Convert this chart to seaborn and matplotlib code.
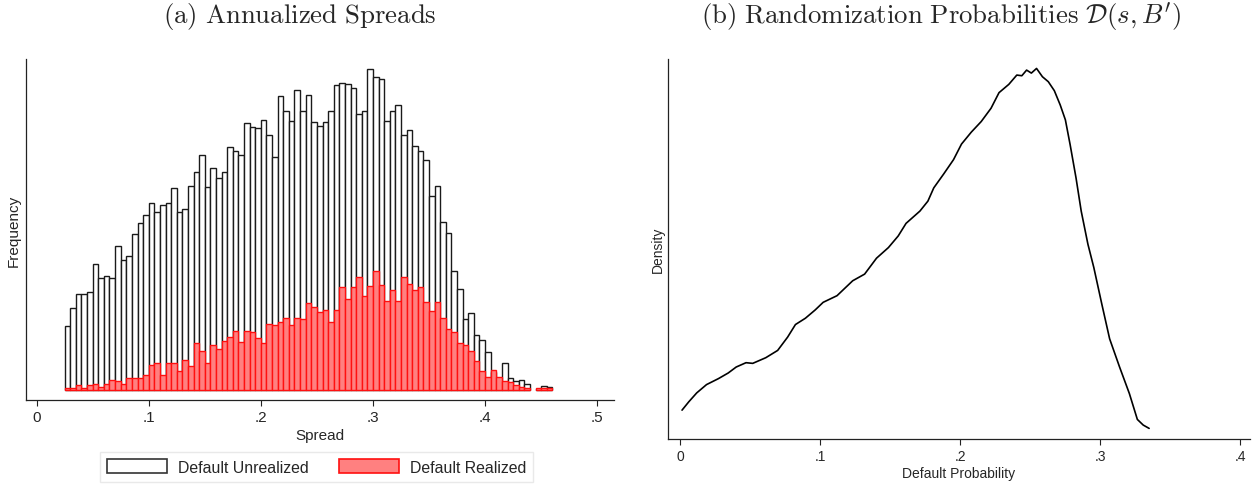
import numpy as np
import pandas as pd
import matplotlib
matplotlib.use("Agg")
import matplotlib.pyplot as plt
import seaborn as sns
from matplotlib.patches import Patch
from matplotlib.ticker import FuncFormatter

# Panel (a): histogram of spreads, bins of width .005 starting at .025
bin_start = 0.025
bin_width = 0.005
unrealized = [193, 247, 289, 288, 293, 378, 335, 343, 335, 432,
              389, 403, 468, 500, 525, 560, 535, 556, 560, 607,
              535, 542, 613, 653, 706, 610, 665, 635, 653, 728,
              718, 706, 800, 790, 786, 810, 764, 700, 882, 836,
              808, 900, 836, 886, 804, 792, 804, 836, 914, 922,
              918, 906, 828, 836, 964, 938, 934, 808, 836, 854,
              766, 780, 732, 718, 690, 583, 611, 503, 472, 358,
              302, 212, 230, 166, 150, 115, 55, 35, 80, 37,
              28, 30, 17, 0, 4, 12, 8]
realized = [5, 5, 15, 5, 15, 19, 8, 19, 29, 26,
            19, 36, 36, 36, 44, 76, 80, 44, 82, 82,
            58, 90, 73, 140, 118, 82, 134, 122, 147, 158,
            176, 143, 176, 173, 155, 140, 197, 194, 204, 215,
            194, 215, 212, 261, 248, 233, 240, 204, 240, 308,
            273, 308, 338, 283, 311, 358, 315, 268, 301, 268,
            338, 318, 301, 310, 265, 236, 265, 215, 183, 173,
            140, 136, 118, 86, 58, 38, 61, 40, 28, 23,
            15, 8, 6, 0, 6, 6, 6]

# Panel (b): kernel density of default probabilities
prob = [0.0014, 0.0062, 0.0119, 0.0189, 0.0274, 0.0344, 0.0401, 0.0471, 0.0519, 0.0612,
        0.0697, 0.0768, 0.0824, 0.0895, 0.0965, 0.1022, 0.1121, 0.1233, 0.1318, 0.1403,
        0.1488, 0.1558, 0.1614, 0.1713, 0.1770, 0.1812, 0.1883, 0.1953, 0.2010, 0.2080,
        0.2151, 0.2221, 0.2278, 0.2348, 0.2405, 0.2441, 0.2475, 0.2509, 0.2546, 0.2588,
        0.2630, 0.2673, 0.2715, 0.2752, 0.2786, 0.2828, 0.2865, 0.2913, 0.2955, 0.3012,
        0.3068, 0.3139, 0.3209, 0.3266, 0.3308, 0.3350]
density = [0.435, 0.56, 0.695, 0.82, 0.91, 0.995, 1.085, 1.15, 1.14, 1.225,
           1.335, 1.535, 1.725, 1.82, 1.945, 2.06, 2.16, 2.385, 2.485, 2.725,
           2.885, 3.06, 3.25, 3.435, 3.585, 3.785, 3.995, 4.21, 4.445, 4.625,
           4.785, 4.985, 5.22, 5.345, 5.485, 5.475, 5.56, 5.515, 5.585, 5.46,
           5.385, 5.25, 5.035, 4.81, 4.435, 3.935, 3.435, 2.935, 2.585, 2.035,
           1.51, 1.085, 0.685, 0.295, 0.21, 0.16]

sns.set_style("white")
plt.rcParams["font.family"] = ["Liberation Sans", "DejaVu Sans"]
plt.rcParams["mathtext.fontset"] = "cm"

n = len(unrealized)
edges = [bin_start + bin_width * i for i in range(n + 1)]
hist_df = pd.DataFrame({
    "spread": [bin_start + bin_width * (i + 0.5) for i in range(n)],
    "unrealized": unrealized,
    "realized": realized,
})
dens_df = pd.DataFrame({"prob": prob, "density": density})

fig = plt.figure(figsize=(12.59, 4.89), dpi=100)
ax1 = fig.add_axes([0.0207, 0.18, 0.467, 0.697])
ax2 = fig.add_axes([0.5306, 0.1002, 0.4623, 0.7768])

def stata_fmt(v, pos):
    if abs(v) < 1e-9:
        return "0"
    return f"{v:g}".replace("0.", ".")

# left: overlaid histograms
sns.histplot(data=hist_df, x="spread", weights="unrealized", bins=edges,
             color="white", edgecolor="#1a1a1a", linewidth=1.0, alpha=1, ax=ax1)
sns.histplot(data=hist_df, x="spread", weights="realized", bins=edges,
             color="#ff8080", edgecolor="#ff1010", linewidth=1.0, alpha=1, ax=ax1)
for p in ax1.patches:
    if p.get_height() == 0:
        p.set_visible(False)
ax1.set_xlim(-0.0094, 0.515)
ax1.set_ylim(-30, 993)
ax1.set_xticks([0, 0.1, 0.2, 0.3, 0.4, 0.5])
ax1.xaxis.set_major_formatter(FuncFormatter(stata_fmt))
ax1.set_yticks([])
ax1.set_xlabel("Spread", fontsize=11, labelpad=3)
ax1.set_ylabel("Frequency", fontsize=11, labelpad=4)

# right: density line
sns.lineplot(data=dens_df, x="prob", y="density", color="black", linewidth=1.2, ax=ax2)
ax2.set_xlim(-0.0086, 0.4071)
ax2.set_ylim(0, 5.725)
ax2.set_xticks([0, 0.1, 0.2, 0.3, 0.4])
ax2.xaxis.set_major_formatter(FuncFormatter(stata_fmt))
ax2.set_yticks([])
ax2.set_xlabel("Default Probability", fontsize=10, labelpad=2)
ax2.set_ylabel("Density", fontsize=10, labelpad=2)

for ax, fs in ((ax1, 11), (ax2, 10)):
    sns.despine(ax=ax)
    for s in ("left", "bottom"):
        ax.spines[s].set_color("#222222")
        ax.spines[s].set_linewidth(0.9)
    ax.tick_params(axis="x", direction="out", length=4, width=0.8,
                   color="#222222", labelsize=fs, pad=3, bottom=True)

handles = [Patch(facecolor="white", edgecolor="#333333", linewidth=1.2, label="Default Unrealized"),
           Patch(facecolor="#ff8080", edgecolor="#ff1010", linewidth=1.2, label="Default Realized")]
fig.legend(handles=handles, loc="center", bbox_to_anchor=(0.2514, 0.043), ncol=2,
           fontsize=11.4, handlelength=3.8, handleheight=1.0, handletextpad=0.65,
           columnspacing=1.95, frameon=True, fancybox=False, edgecolor="#e4e4e4",
           borderpad=0.45)

fig.text(300 / 1259, 1 - 17 / 489, r"$\mathrm{(a)\ Annualized\ Spreads}$",
         ha="center", va="center", fontsize=19.3)
fig.text(941 / 1259, 1 - 17 / 489,
         r"$\mathrm{(b)\ Randomization\ Probabilities}\ \mathcal{D}(s,B^{\prime})$",
         ha="center", va="center", fontsize=19.3)

fig.savefig("out.png", dpi=100)
